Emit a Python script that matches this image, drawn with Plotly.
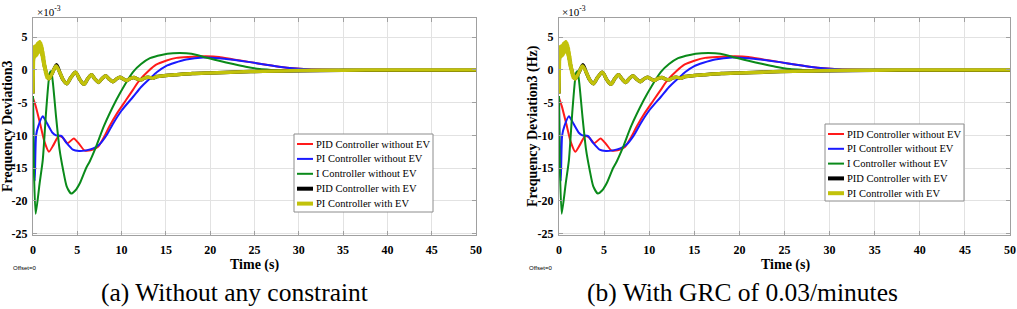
import plotly.graph_objects as go

# ---------------- data (units: x1e-3) ----------------
t_pid_noev = [0, 0.3, 0.8, 1.3, 1.8, 2.3, 2.9, 3.3, 3.9, 4.6, 5.2, 5.8, 6.5, 7.3, 8.0, 8.6,
              9.5, 10.5, 11.3, 12.0, 13.0, 13.9, 15.0, 16.2, 17.5, 19.5, 21.0, 22.6, 24.5,
              26.3, 28.0, 29.3, 31.0, 33.0, 36.0, 40.0, 45.0, 50.0]
v_pid_noev = [-4.3, -5.5, -8.2, -11.0, -12.5, -11.5, -10.1, -10.3, -11.2, -10.5, -11.3, -12.3,
              -12.3, -11.8, -10.3, -8.7, -6.6, -4.6, -3.0, -1.6, -0.2, 0.8, 1.4, 1.85, 2.0,
              2.1, 2.0, 1.6, 1.2, 0.8, 0.45, 0.25, 0.1, 0.03, 0.0, 0.0, 0.0, 0.0]

t_pi_noev = [0, 0.1, 0.2, 0.35, 0.6, 1.1, 1.6, 2.2, 2.6, 3.2, 3.8, 4.5, 5.2, 6.0, 6.8, 7.5,
             8.3, 9.0, 10.0, 11.3, 12.2, 13.2, 14.0, 15.0, 16.0, 17.3, 19.2, 21.0, 22.6,
             24.5, 26.3, 28.0, 29.3, 31.0, 33.0, 36.0, 40.0, 45.0, 50.0]
v_pi_noev = [-4.0, -14.0, -17.0, -10.0, -8.6, -7.1, -8.2, -9.6, -10.0, -10.1, -11.2, -12.2,
             -12.4, -12.3, -12.0, -11.4, -10.0, -8.3, -6.2, -4.1, -2.6, -1.3, -0.3, 0.6, 1.1,
             1.6, 1.9, 1.8, 1.55, 1.2, 0.8, 0.45, 0.25, 0.1, 0.03, 0.0, 0.0, 0.0, 0.0]

t_i_noev = [0, 0.1, 0.3, 0.75, 1.1, 1.5, 1.9, 2.05, 2.25, 2.6, 3.0, 3.4, 3.8, 4.3, 4.8, 5.3,
            6.0, 6.4, 7.1, 8.0, 9.4, 10.3, 11.3, 12.2, 13.2, 14.5, 15.8, 17.3, 18.5, 19.5,
            21.0, 22.6, 24.0, 25.6, 27.0, 28.2, 30.0, 33.0, 36.0, 40.0, 45.0, 50.0]
v_i_noev = [-4.0, -15.0, -22.0, -17.3, -13.8, -6.0, -0.4, -0.2, -2.0, -7.1, -12.2, -15.3,
            -17.8, -18.9, -18.4, -17.3, -15.0, -14.0, -11.8, -8.6, -4.6, -2.4, -0.3, 0.9,
            1.8, 2.3, 2.55, 2.55, 2.3, 1.9, 1.4, 0.9, 0.5, 0.15, 0.0, -0.1, -0.08, -0.03,
            0.0, 0.0, 0.0, 0.0]

t_pid_ev = [0, 0.1, 0.3, 0.5, 0.75, 1.0, 1.3, 1.6, 1.8, 2.2, 2.65, 3.0, 3.4, 3.8, 4.3, 4.8,
            5.3, 5.75, 6.2, 6.6, 7.0, 7.4, 7.8, 8.2, 8.6, 9.0, 9.4, 9.8, 10.2, 10.6, 11.0,
            11.4, 11.8, 12.2, 12.6, 13.0, 13.5, 14.0, 15.0, 16.0, 18.0, 20.0, 23.0, 26.0,
            30.0, 35.0, 40.0, 45.0, 50.0]
v_pid_ev = [-3.6, 2.4, 3.0, 3.4, 3.7, 2.8, 0.6, -0.9, -1.35, -0.4, 0.8, -0.3, -1.5, -2.1,
            -1.1, -0.35, -1.5, -2.2, -1.3, -0.75, -1.4, -1.9, -1.3, -0.9, -1.4, -1.8, -1.4,
            -1.1, -1.4, -1.6, -1.3, -1.15, -1.4, -1.5, -1.2, -1.1, -1.25, -1.0, -0.85,
            -0.75, -0.55, -0.45, -0.32, -0.2, -0.12, -0.05, -0.03, -0.03, -0.03]

t_pi_ev = [0, 0.04, 0.08, 0.12, 0.16, 0.2, 0.24, 0.28, 0.32, 0.36, 0.4, 0.44, 0.48, 0.52,
           0.56, 0.6, 0.64, 0.68, 0.72, 0.76, 0.8, 0.84, 0.88, 0.92, 0.96, 1.0, 1.04, 1.08,
           1.12, 1.16, 1.2, 1.24, 1.28, 1.32, 1.36, 1.4, 1.44, 1.48, 1.52, 1.56, 1.6, 1.8,
           2.2, 2.6, 3.0, 3.4, 3.8, 4.3, 4.8, 5.3, 5.75, 6.2, 6.6, 7.0, 7.4, 7.8, 8.2, 8.6,
           9.0, 9.4, 9.8, 10.2, 10.6, 11.0, 11.4, 11.8, 12.2, 12.6, 13.0, 13.5, 14.0, 15.0,
           16.0, 18.0, 20.0, 23.0, 26.0, 30.0, 35.0, 40.0, 45.0, 50.0]
v_pi_ev = [-3.6, 0.5, 3.2, 1.9, 3.6, 2.0, 3.6, 2.1, 3.7, 2.2, 3.8, 2.3, 4.0, 2.5, 4.1,
           2.7, 4.2, 2.9, 4.3, 3.0, 4.3, 2.9, 4.1, 2.6, 3.8, 2.2, 3.4, 1.7, 2.8, 1.1,
           2.1, 0.5, 1.4, 0.0, 0.8, -0.5, 0.2, -0.9, -0.3, -1.2, -0.7, -1.4,
           -0.4, 0.6, -0.3, -1.5, -2.1, -1.1, -0.35, -1.5, -2.2, -1.3, -0.75, -1.4, -1.9,
           -1.3, -0.9, -1.4, -1.8, -1.4, -1.1, -1.4, -1.6, -1.3, -1.15, -1.4, -1.5, -1.2,
           -1.1, -1.25, -1.0, -0.85, -0.75, -0.55, -0.45, -0.32, -0.2, -0.1, -0.03, 0.0,
           0.0, 0.0]

series_names = ["PID Controller without EV", "PI Controller without EV",
                "I Controller without EV", "PID Controller with EV", "PI Controller with EV"]
series_t = [t_pid_noev, t_pi_noev, t_i_noev, t_pid_ev, t_pi_ev]
series_v = [v_pid_noev, v_pi_noev, v_i_noev, v_pid_ev, v_pi_ev]
series_colors = ["#ff1a1a", "#1a1aff", "#0a8a1a", "#000000", "#c2c20a"]
series_widths = [2, 2, 2, 3.5, 3.5]
series_smooth = [0.6, 0.6, 0.6, 0.8, 0.8]

x_ticks = [0, 5, 10, 15, 20, 25, 30, 35, 40, 45, 50]
y_ticks = [-25, -20, -15, -10, -5, 0, 5]
y_ticktext = ["-25", "-20", "-15", "-10", "-5", "0", "5"]

captions = ["(a) Without any constraint", "(b) With GRC of 0.03/minutes"]
y_titles = ["Frequency Deviation3", "Frequency Deviation3 (Hz)"]

# ---------------- figure ----------------
W, H = 1017, 309
SERIF = "Liberation Serif, Times New Roman, serif"
fig = go.Figure()

panels = [("x", "y"), ("x2", "y2")]
for xa, ya in panels:
    for name, tt, vv, col, wd, sm in zip(series_names, series_t, series_v,
                                         series_colors, series_widths, series_smooth):
        fig.add_trace(go.Scatter(
            x=tt, y=vv, mode="lines", name=name, showlegend=False,
            line=dict(color=col, width=wd, shape="spline", smoothing=sm),
            xaxis=xa, yaxis=ya,
        ))

def px_x(px):
    return px / W

def px_y(py):
    return 1 - py / H

ydom = [px_y(235), px_y(18)]
axis_common = dict(
    showgrid=True, gridcolor="#e2e2e2", gridwidth=1,
    showline=True, linecolor="#a0a0a0", linewidth=1, mirror="allticks",
    ticks="inside", ticklen=4, tickcolor="#a0a0a0",
    zeroline=False, automargin=False,
    tickfont=dict(family=SERIF, size=12, color="black", weight="bold"),
)
fig.update_layout(
    xaxis=dict(domain=[px_x(33), px_x(476)], range=[0, 50], tickvals=x_ticks,
               anchor="y", ticklabelstandoff=4, **axis_common),
    yaxis=dict(domain=ydom, range=[-25.25, 7.95], tickvals=y_ticks, ticktext=y_ticktext,
               anchor="x", ticklabelstandoff=2, **axis_common),
    xaxis2=dict(domain=[px_x(559), px_x(1010)], range=[0, 50], tickvals=x_ticks,
                anchor="y2", ticklabelstandoff=4, **axis_common),
    yaxis2=dict(domain=ydom, range=[-25.25, 7.95], tickvals=y_ticks, ticktext=y_ticktext,
                anchor="x2", ticklabelstandoff=2, **axis_common),
    width=W, height=H, margin=dict(l=0, r=0, t=0, b=0),
    paper_bgcolor="white", plot_bgcolor="white", showlegend=False,
)

annotations = []
shapes = []

# legends (box, line samples, labels) in pixel layout of the page
legend_boxes = [dict(x0=294, x1=433, y0=134, y1=212, first=144, step=14.9),
                dict(x0=825, x1=964, y0=124, y1=201, first=134, step=14.8)]
for lb in legend_boxes:
    shapes.append(dict(type="rect", xref="paper", yref="paper",
                       x0=px_x(lb["x0"]), x1=px_x(lb["x1"]),
                       y0=px_y(lb["y1"]), y1=px_y(lb["y0"]),
                       line=dict(color="#8c8c8c", width=1), fillcolor="white", layer="above"))
    for i, (name, col, wd) in enumerate(zip(series_names, series_colors, series_widths)):
        yc = lb["first"] + i * lb["step"]
        shapes.append(dict(type="line", xref="paper", yref="paper",
                           x0=px_x(lb["x0"] + 3), x1=px_x(lb["x0"] + 19),
                           y0=px_y(yc), y1=px_y(yc),
                           line=dict(color=col, width=wd if wd < 3 else 4), layer="above"))
        annotations.append(dict(text=name, x=px_x(lb["x0"] + 20), y=px_y(yc),
                                xref="paper", yref="paper", xanchor="left", yanchor="middle",
                                showarrow=False,
                                font=dict(family=SERIF, size=10.5, color="black")))

# x10^-3 labels
for x0 in (35, 560):
    annotations.append(dict(text="×10<sup>-3</sup>", x=px_x(x0), y=px_y(11), xref="paper", yref="paper",
                            xanchor="left", yanchor="middle", showarrow=False,
                            font=dict(family=SERIF, size=11, color="black")))
# y titles
for x0, txt in zip((7, 533), y_titles):
    annotations.append(dict(text="<b>" + txt + "</b>", x=px_x(x0), y=px_y(126), xref="paper", yref="paper",
                            xanchor="center", yanchor="middle", textangle=-90, showarrow=False,
                            font=dict(family=SERIF, size=14, color="black")))
# x titles
for x0 in (254, 785):
    annotations.append(dict(text="<b>Time (s)</b>", x=px_x(x0), y=px_y(265), xref="paper", yref="paper",
                            xanchor="center", yanchor="middle", showarrow=False,
                            font=dict(family=SERIF, size=14, color="black")))
# offset labels
for x0 in (11, 527):
    annotations.append(dict(text="Offset=0", x=px_x(x0), y=px_y(268), xref="paper", yref="paper",
                            xanchor="left", yanchor="middle", showarrow=False,
                            font=dict(family="Liberation Sans", size=6, color="black")))
# captions
for x0, txt in zip((234, 742), captions):
    annotations.append(dict(text=txt, x=px_x(x0), y=px_y(292), xref="paper", yref="paper",
                            xanchor="center", yanchor="middle", showarrow=False,
                            font=dict(family=SERIF, size=25.5, color="black")))
fig.update_layout(annotations=annotations, shapes=shapes)

fig.write_html("out.html", config={"displayModeBar": False},
               post_script="document.body.style.margin='0';document.body.style.padding='0';")
